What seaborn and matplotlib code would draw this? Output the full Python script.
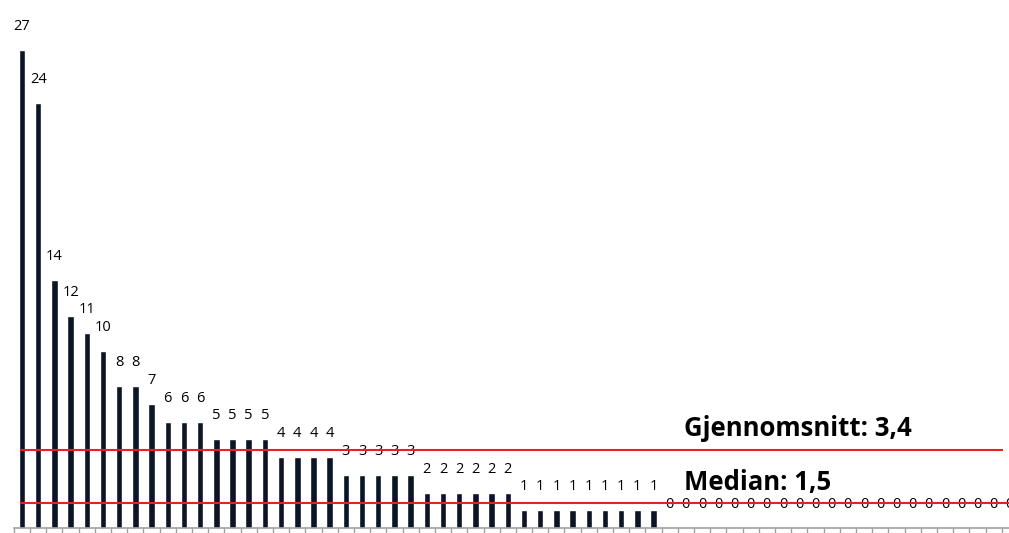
import numpy as np
import pandas as pd
import seaborn as sns
import matplotlib
matplotlib.use("Agg")
import matplotlib.pyplot as plt
from matplotlib.ticker import FixedLocator, NullLocator

# values per category, already sorted high -> low
values = [27, 24, 14, 12, 11, 10, 8, 8, 7, 6, 6, 6, 5, 5, 5, 5, 4, 4, 4, 4,
          3, 3, 3, 3, 3, 2, 2, 2, 2, 2, 2, 1, 1, 1, 1, 1, 1, 1, 1, 1] + [0] * 22
categories = [f"c{i + 1}" for i in range(len(values))]
mean_value = 3.4
median_value = 1.5
mean_label = "Gjennomsnitt: 3,4"
median_label = "Median: 1,5"

bar_color = "#0b1526"
line_color = "#e8201f"


def display_plot():
    df = pd.DataFrame({"cat": categories, "val": values})

    sns.set_style("white")
    plt.rcParams["font.family"] = ["Open Sans", "DejaVu Sans"]

    fig = plt.figure(figsize=(10.09, 5.33), dpi=100)
    n = len(values)
    # axes run a bit past the right edge, like the original (last label cut off)
    ax = fig.add_axes([13.9 / 1009, 5 / 533, 1004 / 1009, 528 / 533])

    sns.barplot(data=df, x="cat", y="val", color=bar_color, width=0.4,
                saturation=1, ax=ax)
    ax.set_xlim(-0.5, n - 0.5)
    ax.set_ylim(0, 29.83)

    for i, v in enumerate(values):
        ax.annotate(str(v), (i, v), xytext=(0, 14.4), textcoords="offset points",
                    ha="center", va="baseline", fontsize=10.5, color="black")

    # axis styling
    for side in ["top", "right", "left"]:
        ax.spines[side].set_visible(False)
    ax.spines["bottom"].set_color("#a0a0a0")
    ax.spines["bottom"].set_linewidth(1.2)
    ax.xaxis.set_major_locator(NullLocator())
    ax.xaxis.set_minor_locator(FixedLocator(np.arange(-0.5, n, 1)))
    ax.tick_params(axis="x", which="minor", bottom=True, length=4, width=1,
                   color="#a0a0a0", direction="out")
    ax.set_yticks([])
    ax.set_xlabel("")
    ax.set_ylabel("")

    # mean / median lines on a secondary scale
    ax2 = ax.twinx()
    ax2.set_ylim(0.604, 19.54)
    ax2.axis("off")
    ax2.hlines(mean_value, -0.1, 60.6, color=line_color, linewidth=1.5)
    ax2.hlines(median_value, -0.1, n - 0.5, color=line_color, linewidth=1.5)
    ax2.annotate(mean_label, (40.9, mean_value), xytext=(0, 15.8),
                 textcoords="offset points", ha="left", va="center",
                 fontsize=18.5, fontweight="bold", color="black")
    ax2.annotate(median_label, (40.9, median_value), xytext=(0, 15.1),
                 textcoords="offset points", ha="left", va="center",
                 fontsize=18.5, fontweight="bold", color="black")

    plt.savefig("out.png", dpi=100)


if __name__ == '__main__':
    display_plot()
